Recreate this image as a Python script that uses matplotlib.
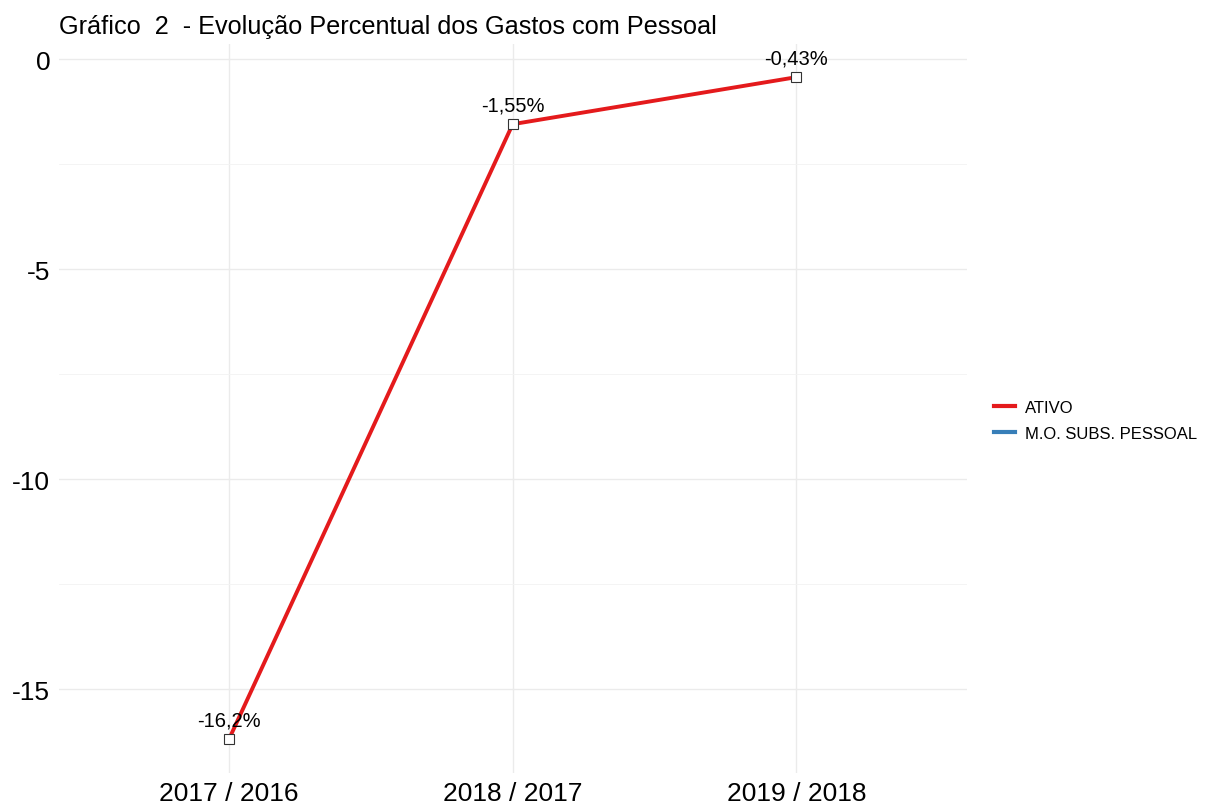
import matplotlib
matplotlib.use("Agg")
import matplotlib.pyplot as plt
from matplotlib.lines import Line2D

plt.rcParams['font.family'] = ['Liberation Sans', 'DejaVu Sans']

# data
periodos = ['2017 / 2016', '2018 / 2017', '2019 / 2018']
ativo = [-16.2, -1.55, -0.43]
rotulos = ['-16,2%', '-1,55%', '-0,43%']
series = ['ATIVO', 'M.O. SUBS. PESSOAL']
cores = ['#E41A1C', '#377EB8']

fig = plt.figure(figsize=(12.1, 8.04), dpi=100)
ax = fig.add_axes([0.0484, 0.0378, 0.7506, 0.9062])

x = list(range(len(periodos)))
ax.plot(x, ativo, color=cores[0], linewidth=2.8, zorder=3)
ax.plot(x, ativo, linestyle='none', marker='s', markersize=7,
        markerfacecolor='white', markeredgecolor='#333333', markeredgewidth=0.8, zorder=4)
for xi, yi, lab in zip(x, ativo, rotulos):
    ax.annotate(lab, (xi, yi), xytext=(0, 7), textcoords='offset points',
                ha='center', va='bottom', fontsize=14.5, color='black', zorder=5)

ax.set_xlim(-0.6, 2.6)
rng = max(ativo) - min(ativo)
ax.set_ylim(min(ativo) - 0.05 * rng, max(ativo) + 0.05 * rng)
ax.set_xticks(x)
ax.set_xticklabels(periodos, fontsize=19)
ax.set_yticks([0, -5, -10, -15])
ax.set_yticklabels(['0', '-5', '-10', '-15'], fontsize=19)
ax.set_yticks([-2.5, -7.5, -12.5], minor=True)
ax.grid(True, which='major', color='#EBEBEB', linewidth=1.0, zorder=0)
ax.grid(True, which='minor', axis='y', color='#F3F3F3', linewidth=0.6, zorder=0)
ax.tick_params(which='both', length=0, pad=6, colors='black')
for s in ax.spines.values():
    s.set_visible(False)

ax.set_title('Gráfico  2  - Evolução Percentual dos Gastos com Pessoal',
             loc='left', fontsize=18.2, pad=8, x=0.0)

handles = [Line2D([0], [0], color=c, linewidth=3) for c in cores]
fig.legend(handles, series, loc='center left', bbox_to_anchor=(0.8087, 0.476),
           frameon=False, fontsize=12, handlelength=1.3, handletextpad=0.6,
           labelspacing=0.65)

fig.savefig('out.png', dpi=100)
